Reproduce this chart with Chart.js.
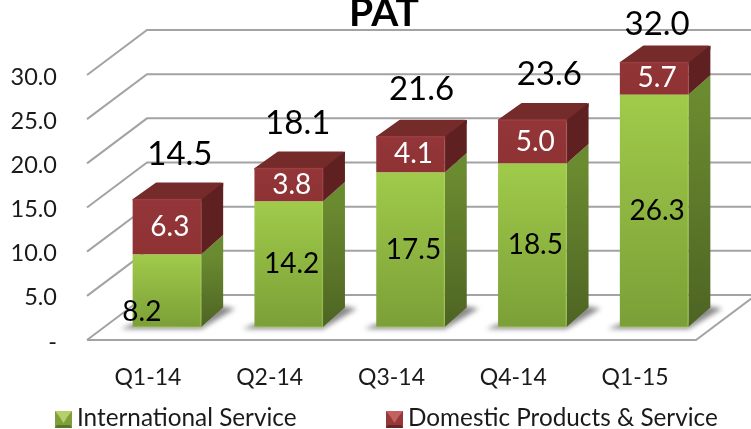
<!DOCTYPE html>
<html>
<head>
<meta charset="utf-8">
<style>html,body{margin:0;padding:0;background:#fff}canvas{display:block}</style>
<script src="https://cdn.jsdelivr.net/npm/chart.js@4"></script>
</head>
<body>
<canvas id="c" width="751" height="429"></canvas>
<script>
const categories = ["Q1-14","Q2-14","Q3-14","Q4-14","Q1-15"];
const international = [8.2,14.2,17.5,18.5,26.3];
const domestic = [6.3,3.8,4.1,5.0,5.7];
const totals = [14.5,18.1,21.6,23.6,32.0];
const seriesNames = ["International Service","Domestic Products & Service"];
const titleText = "PAT";
const FONT = "Lato, Carlito, 'Open Sans', sans-serif";

// 3D look
const frameDepth = {dx:60, dy:-45};
const barOffset  = {dx:19, dy:-13};
const barDepth   = {dx:22, dy:-19.5};
const topInset = 3;
const totalNudge = [[13,-45],[9,-45],[11,-47],[17,-45],[3,-38]];
const innerNudge = {"0:0":[-25,21]};
const topClip = {left:false,top:0,right:false,bottom:false};

function frontGradient(c, topVal, baseVal, c1, c2){
  const y = c.chart.scales.y;
  if (c.dataIndex === undefined || !y) return c1;
  const y1 = y.getPixelForValue(topVal), y2 = y.getPixelForValue(baseVal);
  if (!Number.isFinite(y1) || !Number.isFinite(y2)) return c1;
  const g = c.chart.ctx.createLinearGradient(0,y1,0,y2);
  g.addColorStop(0,c1); g.addColorStop(1,c2); return g;
}
function poly(ctx, pts, fill){
  ctx.beginPath(); pts.forEach((p,i)=> i?ctx.lineTo(p[0],p[1]):ctx.moveTo(p[0],p[1])); ctx.closePath();
  ctx.fillStyle = fill; ctx.fill();
}
function swatch(ctx,x,y,s,base,light,dark){
  ctx.fillStyle = base; ctx.fillRect(x,y,s,s);
  poly(ctx,[[x,y],[x+s,y],[x+s-4,y+5],[x+4,y+5]],light);
  poly(ctx,[[x+4,y+5],[x+s-4,y+5],[x+s/2,y+s-5]],light);
  poly(ctx,[[x,y+s],[x+s,y+s],[x+s-2,y+s-3],[x+2,y+s-3]],dark);
}
// The axis stops at its maximum, so a stack above it is cut off there.
const clampTop = (chart,b) => Math.max(b.y, chart.chartArea.top);

const depthPlugin = {
  id:'depth',
  afterLayout(chart){ chart.titleBlock.left += 72; },
  beforeDatasetsDraw(chart){
    const {ctx, scales:{y}, chartArea:a} = chart;
    ctx.save();
    ctx.strokeStyle = '#a3a3a3'; ctx.lineWidth = 2; ctx.lineJoin='miter';
    y.ticks.forEach(t=>{
      const py = y.getPixelForValue(t.value);
      ctx.beginPath(); ctx.moveTo(a.left,py);
      ctx.lineTo(a.left+frameDepth.dx,py+frameDepth.dy);
      ctx.lineTo(chart.width+2,py+frameDepth.dy); ctx.stroke();
    });
    const y0 = y.getPixelForValue(0);
    ctx.beginPath(); ctx.moveTo(a.left,y0); ctx.lineTo(a.right,y0);
    ctx.lineTo(a.right+frameDepth.dx,y0+frameDepth.dy); ctx.stroke();
    ctx.restore();

    ctx.save();
    ctx.translate(barOffset.dx,barOffset.dy);
    const m0 = chart.getDatasetMeta(0).data, m1 = chart.getDatasetMeta(1).data;
    const dx = barDepth.dx, dy = barDepth.dy;
    m0.forEach(b=>{
      const l=b.x-b.width/2, r=b.x+b.width/2, f=b.base;
      ctx.save(); ctx.filter='blur(2.5px)';
      poly(ctx,[[l-12,f+2],[r,f+2],[r+dx+12,f+dy+1],[r+dx-6,f+dy-2],[r,f-3],[l,f-3]],'rgba(60,60,60,.6)');
      ctx.restore();
    });
    m0.forEach((b,i)=>{
      const tp=clampTop(chart,m1[i]), r=b.x+b.width/2, l=b.x-b.width/2;
      const gs=ctx.createLinearGradient(0,b.y,0,b.base);
      gs.addColorStop(0,'#6b8b30'); gs.addColorStop(1,'#4d6423');
      poly(ctx,[[r,b.base],[r+dx,b.base+dy],[r+dx,b.y+dy],[r,b.y]],gs);
      poly(ctx,[[r,b.y],[r+dx,b.y+dy],[r+dx,tp+dy+topInset],[r,tp+1]],'#5f2021');
      ctx.lineJoin='round'; ctx.lineWidth=3; ctx.strokeStyle='#742b2a';
      const backY=tp+dy+topInset+1.5;
      const top=[[l+1.5,tp+1],[r-1.5,tp+1],[r+dx-2,backY],[l+dx+2,backY]];
      ctx.beginPath(); top.forEach((p,k)=>k?ctx.lineTo(p[0],p[1]):ctx.moveTo(p[0],p[1])); ctx.closePath(); ctx.stroke();
      poly(ctx,top,'#742b2a');
      poly(ctx,[[r,tp+1],[r+dx,tp+dy+topInset],[r+dx,tp+dy+topInset+4],[r,tp+4]],'#5f2021');
    });
  },
  afterDatasetsDraw(chart){
    const {ctx} = chart;
    const m = [chart.getDatasetMeta(0).data, chart.getDatasetMeta(1).data];
    // thin lit edges on the front faces (still in the bars' shifted space)
    m[0].forEach((b,i)=>{
      const r=b.x+b.width/2, l=b.x-b.width/2, tp=clampTop(chart,m[1][i]);
      ctx.lineWidth=1.5;
      ctx.strokeStyle='rgba(176,214,86,.35)';
      ctx.beginPath(); ctx.moveTo(r-.5,b.y); ctx.lineTo(r-.5,b.base); ctx.lineTo(l,b.base-.5); ctx.stroke();
      ctx.strokeStyle='rgba(176,84,84,.35)';
      ctx.beginPath(); ctx.moveTo(l,tp+.5); ctx.lineTo(r,tp+.5); ctx.lineTo(r,b.y); ctx.stroke();
    });
    ctx.restore();
    ctx.save();
    ctx.textAlign='center'; ctx.textBaseline='middle';
    [international,domestic].forEach((vals,s)=>{
      vals.forEach((v,i)=>{
        const b=m[s][i], n=innerNudge[s+':'+i]||[3,0];
        ctx.font = "28px "+FONT;
        ctx.fillStyle = s? '#ffffff':'#000000';
        ctx.fillText(v.toFixed(1), b.x+barOffset.dx+n[0], (clampTop(chart,b)+b.base)/2+barOffset.dy+n[1]);
      });
    });
    ctx.font = "33px "+FONT; ctx.fillStyle='#000';
    totals.forEach((v,i)=>{
      const b=m[1][i];
      ctx.fillText(v.toFixed(1), b.x+barOffset.dx+totalNudge[i][0], clampTop(chart,b)+barOffset.dy+totalNudge[i][1]);
    });
    ctx.textAlign='left';
    ctx.font="24.3px "+FONT;
    swatch(ctx,55,411,17,'#7f9f3a','#b5d06a','#5b7527');
    ctx.fillStyle='#1a1a1a'; ctx.fillText(seriesNames[0],77,418);
    swatch(ctx,386,411,17,'#96383a','#c4605f','#6a2426');
    ctx.fillStyle='#1a1a1a'; ctx.fillText(seriesNames[1],408,418);
    ctx.restore();
  }
};

new Chart(document.getElementById('c'),{
  type:'bar',
  data:{
    labels:categories,
    datasets:[
      {label:seriesNames[0],data:international,clip:topClip,barPercentage:.5625,categoryPercentage:1,
       backgroundColor:c=>frontGradient(c,international[c.dataIndex],0,'#a0cb4a','#7b9f37')},
      {label:seriesNames[1],data:domestic,clip:topClip,barPercentage:.5625,categoryPercentage:1,
       backgroundColor:c=>frontGradient(c,totals[c.dataIndex],international[c.dataIndex],'#943639','#8e3234')}
    ]
  },
  plugins:[depthPlugin],
  options:{
    responsive:false,animation:false,
    layout:{padding:{top:-6,right:55,left:0,bottom:0}},
    plugins:{
      legend:{display:false},tooltip:{enabled:false},
      title:{display:true,text:titleText,color:'#000',fullSize:true,
        font:{family:FONT,size:39,weight:'bold',lineHeight:1},padding:{top:0,bottom:42}}
    },
    scales:{
      x:{stacked:true,grid:{display:false,drawTicks:false},border:{display:false},
         afterFit(s){s.height=89;},
         ticks:{font:{family:FONT,size:23},color:'#1a1a1a',padding:24,maxRotation:0}},
      y:{stacked:true,min:0,max:30,
         grid:{display:false,drawTicks:false},border:{display:false},
         afterFit(s){s.width=87;},
         ticks:{stepSize:5,font:{family:FONT,size:23.5},color:'#1a1a1a',padding:30,labelOffset:2,
           callback:v=>v===0?'-':v.toFixed(1)}}
    }
  }
});
</script>
</body>
</html>
